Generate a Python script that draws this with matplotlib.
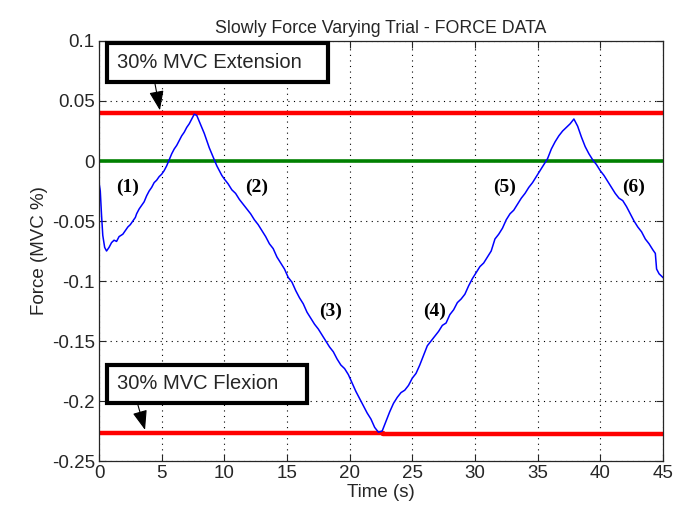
import matplotlib
matplotlib.use("Agg")
import matplotlib.pyplot as plt
from matplotlib.patches import Rectangle

# force trace (time in s, force in MVC fraction)
time_s = [0.0, 0.1, 0.2, 0.3, 0.45, 0.6, 0.8, 1.0, 1.2, 1.4, 1.6, 1.9, 2.1, 2.3, 2.5,
          2.7, 2.9, 3.0, 3.2, 3.4, 3.6, 3.8, 4.0, 4.2, 4.4, 4.6, 4.8, 5.0, 5.2, 5.4,
          5.6, 5.8, 6.0, 6.2, 6.4, 6.6, 6.8, 7.0, 7.2, 7.4, 7.6, 7.8, 8.0, 8.2, 8.4,
          8.6, 8.8, 9.0, 9.2, 9.4, 9.6, 9.8, 10.0, 10.3, 10.6, 10.9, 11.2, 11.5, 11.8,
          12.1, 12.4, 12.7, 13.0, 13.3, 13.6, 13.9, 14.2, 14.5, 14.8, 15.1, 15.4, 15.7,
          16.0, 16.3, 16.6, 16.9, 17.2, 17.5, 17.8, 18.1, 18.4, 18.7, 19.0, 19.3, 19.6,
          19.9, 20.2, 20.5, 20.8, 21.1, 21.4, 21.7, 22.0, 22.3, 22.6, 22.9, 23.2, 23.5,
          23.8, 24.1, 24.4, 24.7, 25.0, 25.3, 25.6, 25.9, 26.2, 26.5, 26.8, 27.1, 27.4,
          27.7, 28.0, 28.3, 28.6, 28.9, 29.2, 29.5, 29.8, 30.1, 30.4, 30.7, 31.0, 31.3,
          31.6, 31.9, 32.2, 32.5, 32.8, 33.1, 33.4, 33.7, 34.0, 34.3, 34.6, 34.9, 35.2,
          35.5, 35.8, 36.1, 36.4, 36.7, 37.0, 37.3, 37.6, 37.9, 38.2, 38.5, 38.8, 39.1,
          39.4, 39.7, 40.0, 40.3, 40.6, 40.9, 41.2, 41.5, 41.8, 42.1, 42.4, 42.7, 43.0,
          43.3, 43.6, 43.9, 44.2, 44.4, 44.5, 44.7, 45.0]
force = [-0.018, -0.025, -0.045, -0.062, -0.072, -0.075, -0.072, -0.068, -0.066, -0.067,
         -0.063, -0.061, -0.058, -0.055, -0.053, -0.050, -0.047, -0.044, -0.040, -0.037,
         -0.034, -0.029, -0.025, -0.022, -0.018, -0.016, -0.013, -0.011, -0.008, -0.004,
         0.001, 0.006, 0.010, 0.013, 0.017, 0.021, 0.024, 0.028, 0.031, 0.035, 0.039,
         0.038, 0.033, 0.028, 0.023, 0.017, 0.011, 0.006, 0.001, -0.004, -0.008, -0.012,
         -0.015, -0.019, -0.024, -0.027, -0.032, -0.036, -0.040, -0.044, -0.049, -0.053,
         -0.058, -0.063, -0.069, -0.073, -0.080, -0.085, -0.090, -0.097, -0.101, -0.108,
         -0.114, -0.119, -0.126, -0.131, -0.136, -0.140, -0.145, -0.150, -0.155, -0.159,
         -0.165, -0.170, -0.173, -0.178, -0.185, -0.192, -0.198, -0.204, -0.210, -0.215,
         -0.222, -0.226, -0.225, -0.217, -0.209, -0.202, -0.197, -0.193, -0.191, -0.187,
         -0.181, -0.177, -0.170, -0.162, -0.154, -0.150, -0.146, -0.142, -0.137, -0.135,
         -0.128, -0.124, -0.118, -0.115, -0.111, -0.104, -0.098, -0.093, -0.088, -0.085,
         -0.080, -0.075, -0.065, -0.061, -0.056, -0.049, -0.044, -0.041, -0.036, -0.031,
         -0.027, -0.022, -0.018, -0.013, -0.008, -0.003, 0.002, 0.010, 0.016, 0.021,
         0.025, 0.028, 0.031, 0.035, 0.029, 0.020, 0.012, 0.006, 0.001, -0.003, -0.008,
         -0.012, -0.017, -0.022, -0.027, -0.031, -0.033, -0.038, -0.044, -0.050, -0.055,
         -0.059, -0.065, -0.069, -0.074, -0.077, -0.090, -0.094, -0.097]

ext_limit = 0.04
flex_t = [0, 22.7, 22.7, 45]
flex_limit = [-0.2265, -0.2265, -0.2275, -0.2275]

phase_labels = ["(1)", "(2)", "(3)", "(4)", "(5)", "(6)"]
phase_t = [2.3, 12.6, 18.5, 26.8, 32.4, 42.7]
phase_f = [-0.022, -0.022, -0.125, -0.125, -0.022, -0.022]

xticks = [0, 5, 10, 15, 20, 25, 30, 35, 40, 45]
yticks = [0.1, 0.05, 0, -0.05, -0.1, -0.15, -0.2, -0.25]

plt.rcParams["font.family"] = ["Liberation Sans", "DejaVu Sans"]

fig = plt.figure(figsize=(6.75, 5.17), dpi=100)
ax = fig.add_axes([0.1467, 0.1083, 0.8353, 0.8124])

ax.plot([0, 45], [ext_limit, ext_limit], color="#ff0000", lw=3.2, solid_capstyle="butt")
ax.plot([0, 45], [0, 0], color="#008000", lw=2.6, solid_capstyle="butt")
ax.plot(flex_t, flex_limit, color="#ff0000", lw=3.2, solid_capstyle="butt")
ax.plot(time_s, force, color="#0000ff", lw=1.1)

for lab, t, f in zip(phase_labels, phase_t, phase_f):
    ax.text(t, f, lab, family=["Liberation Serif", "DejaVu Serif"], fontweight="bold",
            fontsize=14, ha="center", va="center")

ax.set_xlim(0, 45)
ax.set_ylim(-0.25, 0.1)
ax.set_xticks(xticks)
ax.set_yticks(yticks)
ax.set_yticklabels(["0.1", "0.05", "0", "-0.05", "-0.1", "-0.15", "-0.2", "-0.25"])
ax.tick_params(direction="in", top=True, right=True, labelsize=13.5, length=5, width=0.8,
               colors="#262626", labelcolor="#262626", pad=3)
ax.grid(True, color="black", ls=(0, (1, 4)), lw=0.8)
for s in ax.spines.values():
    s.set_color("#262626")
    s.set_linewidth(0.9)

ax.set_title("Slowly Force Varying Trial - FORCE DATA", fontsize=12.8, color="#262626", pad=6)
ax.set_xlabel("Time (s)", fontsize=13.5, color="#262626", labelpad=1)
ax.set_ylabel("Force (MVC %)", fontsize=13.5, color="#262626", labelpad=3)

# annotation boxes
boxes = [
    ("30% MVC Extension", 0.0142, 0.902, 0.392, 0.093, (0.0993, 0.898), (0.108, 0.835)),
    ("30% MVC Flexion", 0.0142, 0.138, 0.355, 0.091, (0.0674, 0.141), (0.0816, 0.074)),
]
for txt, x0, y0, w, h, tail, head in boxes:
    ax.add_patch(Rectangle((x0, y0), w, h, transform=ax.transAxes, facecolor="white",
                           edgecolor="black", lw=3, zorder=6, clip_on=False))
    ax.text(x0 + 0.018, y0 + h / 2, txt, transform=ax.transAxes, fontsize=14.5,
            color="#262626", va="center", ha="left", zorder=7)
    ax.annotate("", xy=head, xytext=tail, xycoords="axes fraction",
                textcoords="axes fraction", zorder=7,
                arrowprops=dict(arrowstyle="-|>,head_length=1.2,head_width=0.45",
                                color="black", lw=0.8, shrinkA=0, shrinkB=0))

fig.savefig("out.png", dpi=100)
